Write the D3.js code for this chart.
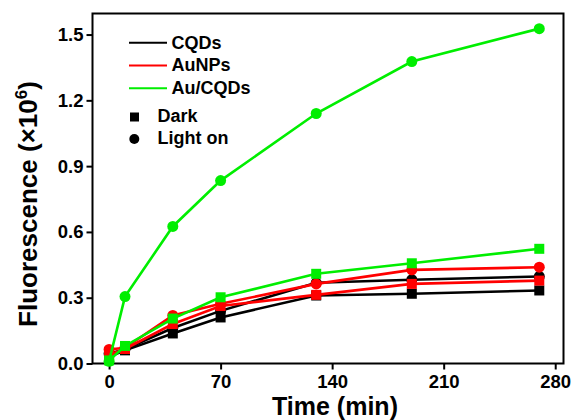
<!DOCTYPE html>
<html><head><meta charset="utf-8">
<script src="https://cdn.jsdelivr.net/npm/d3@7"></script>
<style>body{margin:0;background:#fff}svg{display:block;font-family:"Liberation Sans",Arial,sans-serif;font-weight:bold}</style>
</head><body><svg id="c" width="575" height="420"></svg>
<script>
const times = [0, 10, 40, 70, 130, 190, 270];
const cqdsDark    = [0.030, 0.060, 0.137, 0.210, 0.310, 0.318, 0.333];
const cqdsLight   = [0.045, 0.065, 0.162, 0.240, 0.368, 0.382, 0.397];
const aunpsDark   = [0.040, 0.066, 0.180, 0.262, 0.313, 0.363, 0.378];
const aunpsLight  = [0.064, 0.072, 0.219, 0.272, 0.363, 0.427, 0.439];
const aucqdsDark  = [0.014, 0.080, 0.205, 0.302, 0.409, 0.457, 0.523];
const aucqdsLight = [0.010, 0.305, 0.625, 0.834, 1.140, 1.377, 1.527];
const xTicks = [0, 70, 140, 210, 280];
const yTicks = [0.0, 0.3, 0.6, 0.9, 1.2, 1.5];
const seriesNames = ["CQDs", "AuNPs", "Au/CQDs"];
const seriesColors = ["#000000", "#ff0000", "#00ee00"];

const series = [
  {vals: cqdsDark, color: seriesColors[0], shape: "square"},
  {vals: cqdsLight, color: seriesColors[0], shape: "circle"},
  {vals: aunpsDark, color: seriesColors[1], shape: "square"},
  {vals: aunpsLight, color: seriesColors[1], shape: "circle"},
  {vals: aucqdsDark, color: seriesColors[2], shape: "square"},
  {vals: aucqdsLight, color: seriesColors[2], shape: "circle"}
];

const svg = d3.select("#c");
const L = 92.5, R = 563.5, T = 13.5, B = 363.5;
const x = d3.scaleLinear().domain([-10.4, 285.2]).range([L, R]);
const y = d3.scaleLinear().domain([0, 1.596]).range([B, T]);

// frame
svg.append("rect").attr("x", L).attr("y", T).attr("width", R - L).attr("height", B - T)
  .attr("fill", "none").attr("stroke", "#000").attr("stroke-width", 2);

const xa = svg.append("g").attr("transform", `translate(0,${B})`)
  .call(d3.axisBottom(x).tickValues(xTicks).tickFormat(d3.format("d")).tickSize(6).tickPadding(5));
const ya = svg.append("g").attr("transform", `translate(${L},0)`)
  .call(d3.axisLeft(y).tickValues(yTicks).tickFormat(d3.format(".1f")).tickSize(6).tickPadding(3));
[xa, ya].forEach(a => {
  a.select(".domain").remove();
  a.selectAll("line").attr("stroke", "#000").attr("stroke-width", 2);
  a.selectAll("text").attr("font-size", 18.5).attr("font-weight", "bold").attr("fill", "#000")
   .attr("font-family", "Liberation Sans, Arial, sans-serif");
});

const line = d3.line().x((d, i) => x(times[i])).y(d => y(d));
series.forEach(s => {
  svg.append("path").attr("d", line(s.vals)).attr("fill", "none")
    .attr("stroke", s.color).attr("stroke-width", 2.6);
  const g = svg.append("g");
  s.vals.forEach((v, i) => {
    if (s.shape === "square") {
      g.append("rect").attr("x", x(times[i]) - 5).attr("y", y(v) - 5)
        .attr("width", 10).attr("height", 10).attr("fill", s.color);
    } else {
      g.append("circle").attr("cx", x(times[i])).attr("cy", y(v)).attr("r", 5.5).attr("fill", s.color);
    }
  });
});

// legend
const lg = svg.append("g");
seriesNames.forEach((n, i) => {
  const yy = 42.7 + i * 22.8;
  lg.append("line").attr("x1", 129).attr("x2", 167).attr("y1", yy).attr("y2", yy)
    .attr("stroke", seriesColors[i]).attr("stroke-width", 2);
  lg.append("text").attr("x", 171.5).attr("y", yy + 5.8).attr("font-size", 18).text(n);
});
lg.append("rect").attr("x", 130).attr("y", 112.5).attr("width", 9).attr("height", 9).attr("fill", "#000");
lg.append("text").attr("x", 157.5).attr("y", 121.7).attr("font-size", 18).text("Dark");
lg.append("circle").attr("cx", 134.3).attr("cy", 139).attr("r", 5).attr("fill", "#000");
lg.append("text").attr("x", 157.5).attr("y", 144.2).attr("font-size", 18).text("Light on");

// axis titles
svg.append("text").attr("x", 335).attr("y", 414.5).attr("text-anchor", "middle")
  .attr("font-size", 25).text("Time (min)");
const yt = svg.append("text").attr("transform", "translate(37,204) rotate(-90)")
  .attr("text-anchor", "middle").attr("font-size", 26);
yt.append("tspan").text("Fluorescence (×10");
yt.append("tspan").attr("font-size", 17).attr("dy", -10).text("6");
yt.append("tspan").attr("dy", 10).text(")");
</script></body></html>
